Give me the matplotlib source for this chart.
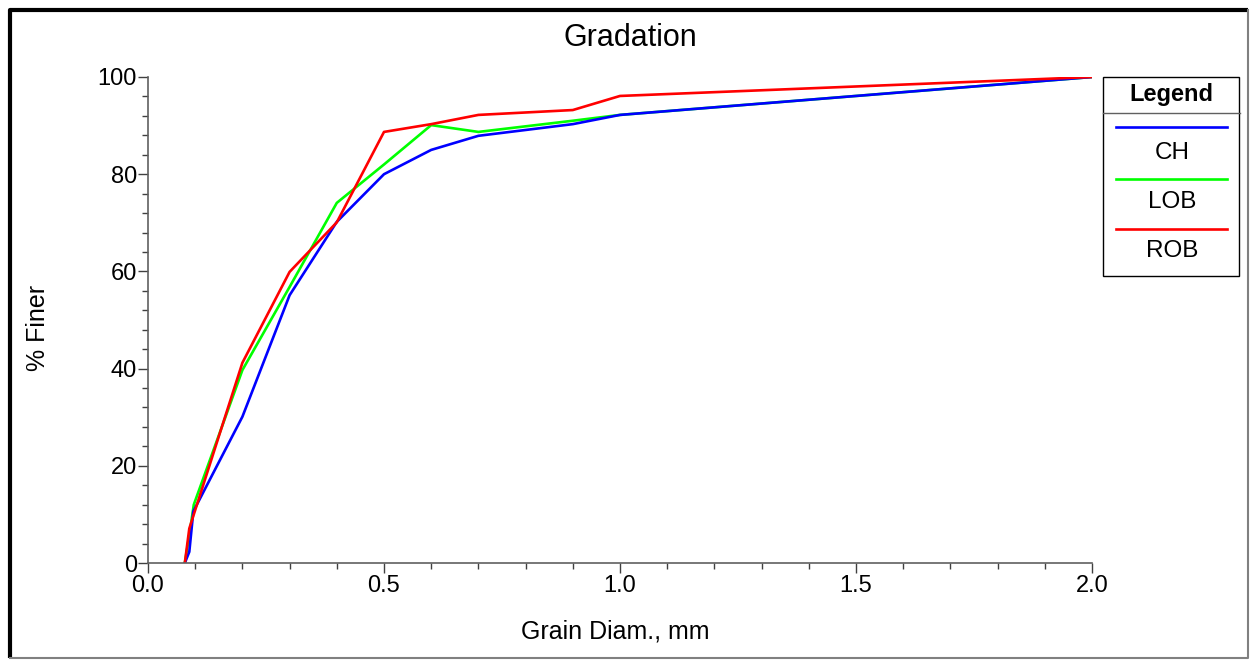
import matplotlib
matplotlib.use('Agg')
import matplotlib.pyplot as plt
from matplotlib.ticker import MultipleLocator, FormatStrFormatter
from matplotlib.patches import Rectangle

plt.rcParams['font.family'] = ['Liberation Sans', 'DejaVu Sans']

# gradation curves
ch_x = [0.078, 0.0875, 0.096, 0.2, 0.3, 0.4, 0.5, 0.6, 0.7, 0.9, 1.0, 2.0]
ch_y = [0, 2.3, 10.6, 30.1, 55.1, 70.2, 80.0, 85.0, 87.9, 90.3, 92.2, 100]
lob_x = [0.078, 0.088, 0.097, 0.2, 0.3, 0.4, 0.5, 0.6, 0.7, 0.9, 1.0, 2.0]
lob_y = [0, 6, 12, 39.7, 56.8, 74.1, 82.0, 90.1, 88.7, 91.0, 92.2, 100]
rob_x = [0.078, 0.0875, 0.2, 0.3, 0.4, 0.5, 0.6, 0.7, 0.9, 1.0, 2.0]
rob_y = [0, 7.1, 41.2, 59.9, 70.1, 88.7, 90.3, 92.2, 93.2, 96.1, 100]

names = ['CH', 'LOB', 'ROB']
colors = ['#0000ff', '#00ff00', '#ff0000']

W, H = 1252, 662
fig = plt.figure(figsize=(W / 100, H / 100), dpi=100)

# overlay in pixel coordinates for frame and legend
ov = fig.add_axes([0, 0, 1, 1])
ov.set_xlim(0, W)
ov.set_ylim(H, 0)
ov.axis('off')
ov.set_zorder(0)

# plot area: x 148..1092, y 77..563
ax = fig.add_axes([148 / W, 1 - 563 / H, (1092 - 148) / W, (563 - 77) / H])
ax.set_zorder(1)
ax.patch.set_alpha(0)

ax.plot(lob_x, lob_y, color=colors[1], lw=1.9)
ax.plot(ch_x, ch_y, color=colors[0], lw=1.9)
ax.plot(rob_x, rob_y, color=colors[2], lw=1.9)

ax.set_xlim(0, 2.0)
ax.set_ylim(0, 100)
ax.xaxis.set_major_locator(MultipleLocator(0.5))
ax.xaxis.set_minor_locator(MultipleLocator(0.1))
ax.xaxis.set_major_formatter(FormatStrFormatter('%.1f'))
ax.yaxis.set_major_locator(MultipleLocator(20))
ax.yaxis.set_minor_locator(MultipleLocator(4))

for s in ['top', 'right']:
    ax.spines[s].set_visible(False)
for s in ['left', 'bottom']:
    ax.spines[s].set_color('#606060')
    ax.spines[s].set_linewidth(1.2)
ax.tick_params(which='major', direction='out', length=7, width=1, color='#404040',
               labelsize=17, pad=2)
ax.tick_params(which='minor', direction='out', length=4, width=1, color='#404040')
ax.tick_params(axis='y', pad=1)

fig.text(630 / W, 1 - 38 / H, 'Gradation', ha='center', va='center', fontsize=22)
fig.text(615 / W, 1 - 631 / H, 'Grain Diam., mm', ha='center', va='center', fontsize=18)
fig.text(38 / W, 1 - 328 / H, '% Finer', ha='center', va='center', fontsize=18, rotation=90)

# outer frame: thick dark top/left, thin gray right/bottom
ov.plot([9.5, 9.5, W - 4], [H - 4, 9.5, 9.5], color='black', lw=3, solid_capstyle='butt')
ov.plot([W - 4, W - 4, 9.5], [9.5, H - 4, H - 4], color='#808080', lw=1.5)

# legend box
ov.add_patch(Rectangle((1103, 77), 136, 199, fill=False, edgecolor='black', lw=1))
ov.plot([1103, 1240], [113, 113], color='#606060', lw=1)
ov.text(1171, 95, 'Legend', ha='center', va='center', fontsize=17, fontweight='bold')
line_y = [127, 179, 229]
text_y = [153, 202, 251]
for n, c, ly, ty in zip(names, colors, line_y, text_y):
    ov.plot([1116, 1227], [ly, ly], color=c, lw=1.9)
    ov.text(1172, ty, n, ha='center', va='center', fontsize=17.5)

fig.savefig('out.png', dpi=100, facecolor='white')
